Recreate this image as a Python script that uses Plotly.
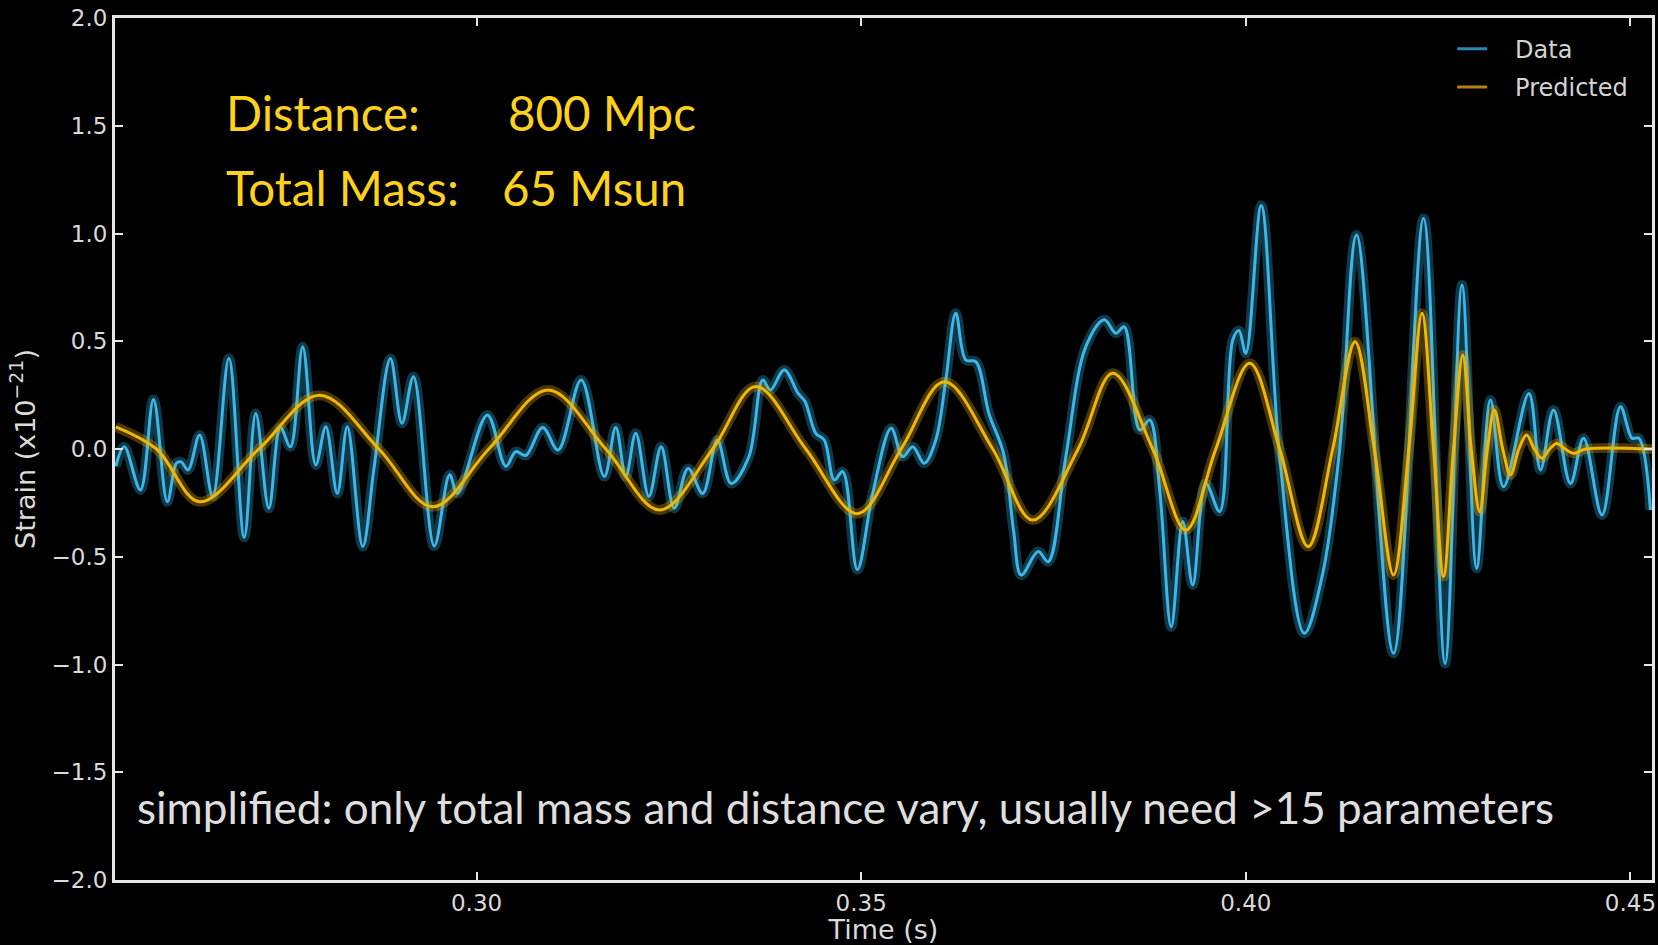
import plotly.graph_objects as go

# ---------------- data ----------------
data_t = [0.2531, 0.2542, 0.2563, 0.2580, 0.2598, 0.2610, 0.2616, 0.2625, 0.2640, 0.2657,
          0.2678, 0.2698, 0.2713, 0.2730, 0.2745, 0.2758, 0.2774, 0.2791, 0.2804, 0.2819,
          0.2832, 0.2852, 0.2867, 0.2888, 0.2903, 0.2918, 0.2945, 0.2965, 0.2975, 0.3014,
          0.3038, 0.3051, 0.3064, 0.3086, 0.3106, 0.3136, 0.3166, 0.3181, 0.3194, 0.3207,
          0.3224, 0.3240, 0.3257, 0.3275, 0.3294, 0.3313, 0.3331, 0.3354, 0.3372, 0.3382,
          0.3400, 0.3418, 0.3427, 0.3441, 0.3452, 0.3465, 0.3476, 0.3495, 0.3515, 0.3539,
          0.3554, 0.3567, 0.3582, 0.3597, 0.3610, 0.3623, 0.3636, 0.3649, 0.3666, 0.3685,
          0.3698, 0.3708, 0.3730, 0.3743, 0.3766, 0.3792, 0.3816, 0.3831, 0.3842, 0.3862,
          0.3875, 0.3888, 0.3903, 0.3918, 0.3931, 0.3948, 0.3966, 0.3983, 0.3991, 0.4000,
          0.4020, 0.4044, 0.4076, 0.4100, 0.4122, 0.4144, 0.4192, 0.4231, 0.4259, 0.4281,
          0.4300, 0.4318, 0.4335, 0.4368, 0.4383, 0.4400, 0.4422, 0.4439, 0.4463, 0.4487,
          0.4502, 0.4511, 0.4526]
data_strain = [-0.08, 0.01, -0.19, 0.23, -0.245, -0.065, -0.06, -0.097, 0.065, -0.22,
               0.42, -0.41, 0.165, -0.275, 0.10, 0.01, 0.475, -0.074, 0.103, -0.206,
               0.103, -0.453, -0.08, 0.42, 0.12, 0.335, -0.45, -0.12, -0.206, 0.158,
               -0.08, -0.012, -0.03, 0.10, -0.005, 0.32, -0.128, 0.10, -0.128, 0.073,
               -0.22, 0.01, -0.275, -0.09, -0.206, 0.042, -0.16, -0.036, 0.32, 0.274,
               0.367, 0.258, 0.22, 0.073, 0.042, -0.144, -0.105, -0.56, -0.206, 0.096,
               -0.036, 0.01, -0.066, 0.042, 0.32, 0.63, 0.413, 0.405, 0.165, -0.02,
               -0.376, -0.585, -0.476, -0.523, -0.036, 0.475, 0.60, 0.537, 0.567, 0.088,
               0.135, -0.19, -0.825, -0.337, -0.631, -0.16, -0.29, 0.506, 0.55, 0.444,
               1.13, -0.036, -0.855, -0.577, 0.0, 0.993, -0.948, 1.07, -0.995, 0.761,
               -0.554, 0.227, -0.175, 0.258, -0.097, 0.181, -0.16, 0.05, -0.306, 0.196,
               0.05, 0.05, -0.283]

pred_t = [0.2531, 0.2584, 0.2640, 0.2717, 0.2796, 0.2873, 0.2943, 0.3016, 0.3093, 0.3168,
          0.3238, 0.3307, 0.3363, 0.3428, 0.3495, 0.3552, 0.3608, 0.3671, 0.3723, 0.3782,
          0.3827, 0.3879, 0.3922, 0.3961, 0.4005, 0.4044, 0.4081, 0.4113, 0.4142, 0.4167,
          0.4192, 0.4212, 0.4229, 0.4244, 0.4257, 0.4270, 0.4282, 0.4293, 0.4304, 0.4314,
          0.4323, 0.4334, 0.4344, 0.4355, 0.4365, 0.4375, 0.4385, 0.4395, 0.4404, 0.4415,
          0.4426, 0.4442, 0.4528]
pred_strain = [0.103, 0.0, -0.245, 0.0, 0.25, 0.0, -0.268, 0.0, 0.274, 0.0,
               -0.283, 0.0, 0.29, 0.0, -0.30, 0.0, 0.312, 0.0, -0.33, 0.0,
               0.351, 0.0, -0.376, 0.0, 0.398, 0.0, -0.453, 0.0, 0.498, 0.0,
               -0.585, 0.0, 0.63, 0.0, -0.592, 0.0, 0.436, 0.0, -0.29, 0.0,
               0.181, 0.0, -0.12, 0.0, 0.065, 0.0, -0.043, 0.0, 0.026, 0.0,
               -0.02, 0.0, 0.0]

x_ticks = [0.30, 0.35, 0.40, 0.45]
x_tick_labels = ["0.30", "0.35", "0.40", "0.45"]
y_ticks = [2.0, 1.5, 1.0, 0.5, 0.0, -0.5, -1.0, -1.5, -2.0]
y_tick_labels = ["2.0", "1.5", "1.0", "0.5", "0.0", "\u22120.5", "\u22121.0", "\u22121.5", "\u22122.0"]

# ---------------- figure ----------------
W, H = 1658, 945
ML, MR, MT, MB = 115, 6, 18, 65

BLUE = "#3db6e8"
YELLOW = "#f2b705"
NB = "\u00a0"

fig = go.Figure()

# glow halos
fig.add_trace(go.Scatter(x=data_t, y=data_strain, mode="lines",
                         line=dict(color="rgba(61,182,232,0.30)", width=10, shape="spline", smoothing=1.0),
                         showlegend=False, hoverinfo="skip"))
fig.add_trace(go.Scatter(x=data_t, y=data_strain, mode="lines",
                         line=dict(color=BLUE, width=3, shape="spline", smoothing=1.0),
                         showlegend=False, name="Data"))
fig.add_trace(go.Scatter(x=pred_t, y=pred_strain, mode="lines",
                         line=dict(color="rgba(242,183,5,0.30)", width=10, shape="spline", smoothing=1.0),
                         showlegend=False, hoverinfo="skip"))
fig.add_trace(go.Scatter(x=pred_t, y=pred_strain, mode="lines",
                         line=dict(color=YELLOW, width=3, shape="spline", smoothing=1.0),
                         showlegend=False, name="Predicted"))

# legend entries (dimmer, like the reference legend)
fig.add_trace(go.Scatter(x=[None], y=[None], mode="lines", name=NB * 3 + "Data",
                         line=dict(color="#2f86b0", width=3), legendgroup="a"))
fig.add_trace(go.Scatter(x=[None], y=[None], mode="lines", name=NB * 3 + "Predicted",
                         line=dict(color="#b8800c", width=3), legendgroup="b"))

axis_common = dict(
    showline=True, linecolor="#e6e6e6", linewidth=3, mirror="allticks",
    ticks="inside", ticklen=8, tickwidth=2, tickcolor="#e6e6e6",
    showgrid=False, zeroline=False, ticklabeloverflow="allow", automargin=False,
    tickfont=dict(family="DejaVu Sans", size=23, color="#dadada"),
)

fig.update_layout(
    width=W, height=H,
    margin=dict(l=ML, r=MR, t=MT, b=MB, autoexpand=False),
    paper_bgcolor="black", plot_bgcolor="black",
    xaxis=dict(range=[0.2530, 0.4528], tickvals=x_ticks, ticktext=x_tick_labels,
               title=dict(text="Time (s)", font=dict(family="DejaVu Sans", size=27, color="#dadada"),
                          standoff=2),
               **axis_common),
    yaxis=dict(range=[-2, 2], tickvals=y_ticks, ticktext=y_tick_labels,
               title=dict(text="Strain (x10<sup>\u221221</sup>)",
                          font=dict(family="DejaVu Sans", size=27, color="#dadada"), standoff=9),
               **axis_common),
    legend=dict(x=0.870, y=0.99, xanchor="left", yanchor="top",
                bgcolor="rgba(0,0,0,0)", borderwidth=0,
                font=dict(family="DejaVu Sans", size=24, color="#d4d4d4"),
                traceorder="grouped", tracegroupgap=4),
    showlegend=True,
)

ann_font = dict(family="Lato", size=47.5, color="#fdd11c")
for txt, xp, yp in [("Distance:", 0.0709, 0.8905), ("800 Mpc", 0.2546, 0.8905),
                    ("Total Mass:", 0.0709, 0.8030), ("65 Msun", 0.2506, 0.8030)]:
    fig.add_annotation(text=txt, x=xp, y=yp, xref="paper", yref="paper",
                       xanchor="left", yanchor="middle", showarrow=False, font=ann_font)

fig.add_annotation(text="simplified: only total mass and distance vary, usually need >15 parameters",
                   x=0.0130, y=0.0845, xref="paper", yref="paper", xanchor="left", yanchor="middle",
                   showarrow=False, font=dict(family="Lato", size=44, color="#dedede"))

fig.write_html("out.html")
